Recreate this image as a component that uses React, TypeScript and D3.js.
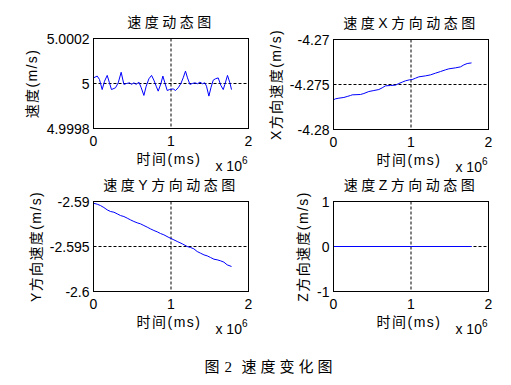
import React from 'react';
import * as d3 from 'd3';

// time axis values are in units of 10^6 ms
const xTicks = [0, 1, 2];
const xTickLabels = ['0', '1', '2'];

const speedT = [0, 0.048, 0.077, 0.112, 0.142, 0.177, 0.206, 0.232, 0.284, 0.319, 0.357, 0.392, 0.426, 0.465, 0.490, 0.521, 0.551, 0.586, 0.616, 0.650, 0.680, 0.715, 0.749, 0.779, 0.809, 0.835, 0.870, 0.895, 0.921, 0.951, 0.981, 1.028, 1.058, 1.093, 1.128, 1.157, 1.187, 1.213, 1.244, 1.274, 1.308, 1.342, 1.373, 1.406, 1.437, 1.458, 1.489, 1.515, 1.545, 1.574, 1.609, 1.644, 1.674, 1.695, 1.729, 1.760, 1.781];
const speedV = [5.000025, 5.000033, 5.000018, 4.999973, 5.00001, 5.000036, 5.000003, 4.999973, 4.999981, 5.000003, 5.00005, 4.999996, 5.0, 5.000003, 4.999996, 5.000003, 4.999996, 5.000006, 4.999981, 4.999947, 4.999988, 5.000021, 5.000036, 5.000015, 4.999988, 4.999966, 5.0, 5.000033, 5.000003, 4.999969, 4.999973, 4.999976, 4.999969, 4.999981, 5.0, 5.000025, 5.000055, 5.000025, 4.999996, 5.0, 5.000003, 4.999999, 5.000006, 4.999999, 5.000003, 4.999988, 4.999944, 4.999981, 5.000015, 5.000021, 5.000025, 4.999991, 4.999973, 4.999996, 5.000036, 5.000003, 4.999973];

const xSpeedT = [0, 0.026, 0.069, 0.134, 0.177, 0.220, 0.241, 0.348, 0.392, 0.456, 0.521, 0.585, 0.628, 0.671, 0.735, 0.800, 0.843, 0.886, 0.929, 0.981, 1.015, 1.058, 1.101, 1.187, 1.252, 1.316, 1.381, 1.445, 1.488, 1.574, 1.639, 1.682, 1.725, 1.781];
const xSpeedV = [-4.2767, -4.27659, -4.27652, -4.27644, -4.27633, -4.27622, -4.27615, -4.27611, -4.276, -4.27578, -4.27567, -4.27556, -4.27537, -4.27515, -4.27511, -4.27507, -4.27489, -4.27474, -4.27459, -4.27448, -4.27445, -4.2743, -4.27415, -4.27404, -4.27393, -4.27374, -4.27356, -4.27337, -4.27326, -4.27315, -4.27304, -4.27282, -4.27267, -4.2726];

const ySpeedT = [0, 0.048, 0.090, 0.134, 0.177, 0.219, 0.263, 0.306, 0.348, 0.392, 0.435, 0.477, 0.521, 0.564, 0.606, 0.650, 0.693, 0.735, 0.779, 0.822, 0.865, 0.908, 0.973, 1.037, 1.080, 1.145, 1.209, 1.252, 1.295, 1.338, 1.381, 1.425, 1.467, 1.510, 1.554, 1.596, 1.639, 1.683, 1.725, 1.781];
const ySpeedV = [-2.59019, -2.5903, -2.59045, -2.59067, -2.59093, -2.59111, -2.59119, -2.59137, -2.59156, -2.59167, -2.59185, -2.59204, -2.59222, -2.59237, -2.59248, -2.59267, -2.59285, -2.59304, -2.59322, -2.59337, -2.59356, -2.5937, -2.594, -2.59426, -2.59444, -2.5947, -2.595, -2.59511, -2.59526, -2.59556, -2.59574, -2.59593, -2.59604, -2.59622, -2.59641, -2.59648, -2.59659, -2.59674, -2.59704, -2.59722];

const zSpeedT = [0, 1.781];
const zSpeedV = [0, 0];

const FONT = "'Liberation Sans', Arial, 'Noto Sans CJK SC', sans-serif";
const SERIF = "'Liberation Serif', 'Noto Sans CJK SC', serif";

type PanelProps = {
  left: number;
  top: number;
  title: string;
  ylabel: string;
  ylabelOffset: number;
  yDomain: [number, number];
  yTicks: number[];
  yTickLabels: string[];
  t: number[];
  v: number[];
};

const W = 155;
const H = 90;

function Panel(p: PanelProps) {
  const x = d3.scaleLinear().domain([0, 2]).range([p.left, p.left + W]);
  const y = d3.scaleLinear().domain(p.yDomain).range([p.top + H, p.top]);
  const line = d3.line<number>()
    .x((d, i) => x(p.t[i]))
    .y(d => y(d));
  return (
    <g fontFamily={FONT} fill="#000">
      {xTicks.map(t => (
        <line key={'gx' + t} x1={x(t)} x2={x(t)} y1={p.top} y2={p.top + H}
          stroke="#000" strokeDasharray="3,2" />
      ))}
      {p.yTicks.map(t => (
        <line key={'gy' + t} x1={p.left} x2={p.left + W} y1={y(t)} y2={y(t)}
          stroke="#000" strokeDasharray="3,2" />
      ))}
      <path d={line(p.v) || ''} fill="none" stroke="#0000ff" strokeWidth={1} />
      <rect x={p.left} y={p.top} width={W} height={H} fill="none" stroke="#000" strokeWidth={1} />
      {xTicks.map((t, i) => (
        <text key={'xt' + t} x={x(t)} y={p.top + H + 17.5} fontSize={14} textAnchor="middle">
          {xTickLabels[i]}
        </text>
      ))}
      {p.yTicks.map((t, i) => (
        <text key={'yt' + t} x={p.left - 4} y={y(t) + 5} fontSize={14} textAnchor="end">
          {p.yTickLabels[i]}
        </text>
      ))}
      <text x={p.left + W / 2} y={p.top - 11.5} fontSize={14} textAnchor="middle" letterSpacing={3.5}>
        {p.title}
      </text>
      <text x={p.left + W / 2 - 2} y={p.top + H + 35} fontSize={14} textAnchor="middle" letterSpacing={1.5}>
        时间(ms)
      </text>
      <text x={p.left + W - 1} y={p.top + H + 42} fontSize={14} textAnchor="end">
        x 10<tspan fontSize={10} dy={-7}>6</tspan>
      </text>
      <text transform={`translate(${p.left - p.ylabelOffset},${p.top + H / 2}) rotate(-90)`}
        fontSize={14} textAnchor="middle" letterSpacing={1.4}>
        {p.ylabel}
      </text>
    </g>
  );
}

export default function App() {
  return (
    <svg width={511} height={385} style={{ position: 'absolute', left: 0, top: 0, background: '#fff' }}>
      <rect width={511} height={385} fill="#fff" />
      <Panel left={93.5} top={38.5} title="速度动态图" ylabel="速度(m/s)" ylabelOffset={57}
        yDomain={[4.9998, 5.0002]} yTicks={[4.9998, 5, 5.0002]} yTickLabels={['4.9998', '5', '5.0002']}
        t={speedT} v={speedV} />
      <Panel left={333.5} top={39.5} title="速度X方向动态图" ylabel="X方向速度(m/s)" ylabelOffset={53}
        yDomain={[-4.28, -4.27]} yTicks={[-4.28, -4.275, -4.27]} yTickLabels={['-4.28', '-4.275', '-4.27']}
        t={xSpeedT} v={xSpeedV} />
      <Panel left={93.5} top={201.5} title="速度Y方向动态图" ylabel="Y方向速度(m/s)" ylabelOffset={53}
        yDomain={[-2.6, -2.59]} yTicks={[-2.6, -2.595, -2.59]} yTickLabels={['-2.6', '-2.595', '-2.59']}
        t={ySpeedT} v={ySpeedV} />
      <Panel left={333.5} top={201.5} title="速度Z方向动态图" ylabel="Z方向速度(m/s)" ylabelOffset={26}
        yDomain={[-1, 1]} yTicks={[-1, 0, 1]} yTickLabels={['-1', '0', '1']}
        t={zSpeedT} v={zSpeedV} />
      <g fontFamily={SERIF} fontSize={15} fill="#000">
        <text x={204.5} y={372}>图</text>
        <text x={224.5} y={372}>2</text>
        <text x={241.5} y={372} letterSpacing={4}>速度变化图</text>
      </g>
    </svg>
  );
}
